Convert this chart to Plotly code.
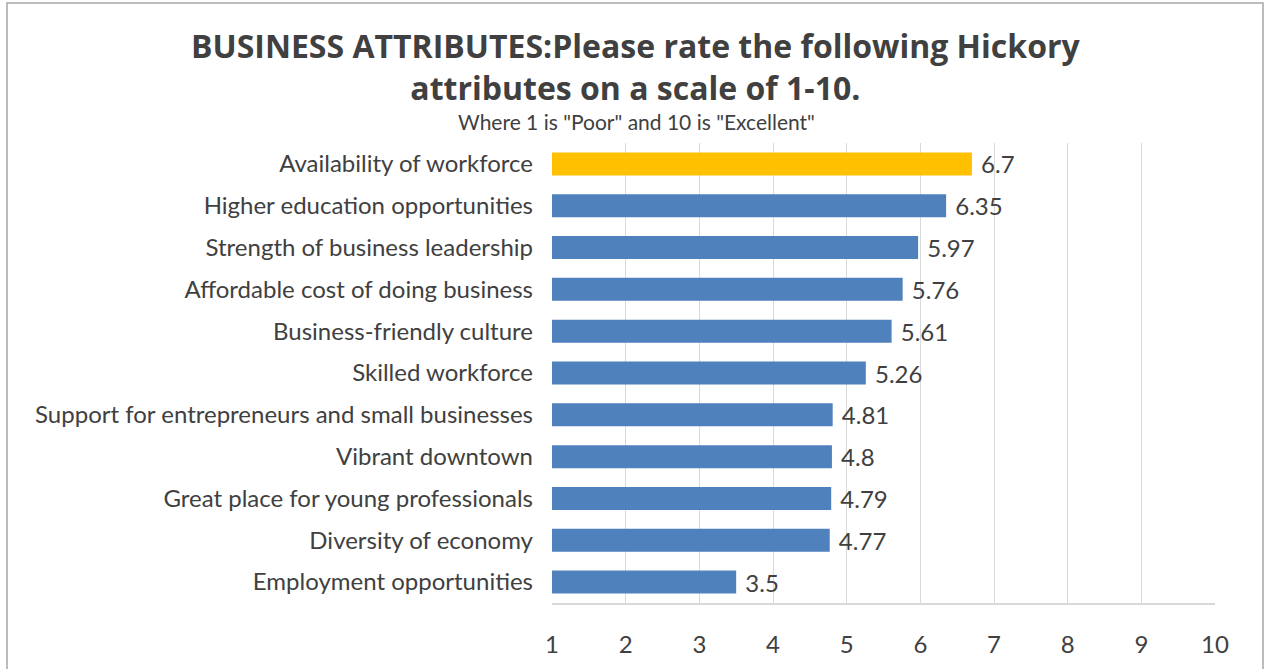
import plotly.graph_objects as go

# Survey results: average rating per attribute (1 = Poor, 10 = Excellent)
attributes = [
    "Availability of workforce",
    "Higher education opportunities",
    "Strength of business leadership",
    "Affordable cost of doing business",
    "Business-friendly culture",
    "Skilled workforce",
    "Support for entrepreneurs and small businesses",
    "Vibrant downtown",
    "Great place for young professionals",
    "Diversity of economy",
    "Employment opportunities",
]
ratings = [6.7, 6.35, 5.97, 5.76, 5.61, 5.26, 4.81, 4.8, 4.79, 4.77, 3.5]
tick_values = [1, 2, 3, 4, 5, 6, 7, 8, 9, 10]

BLUE = "#4F81BD"
GOLD = "#FFC000"
TEXT = "#404040"
GRID = "#D9D9D9"
FONT = "Lato, 'Open Sans', sans-serif"
TITLE_FONT = "'Open Sans', Lato, sans-serif"

colors = [GOLD if i == 0 else BLUE for i in range(len(ratings))]

W, H = 1270, 669
L, R, T, B = 552, 55, 143, 66

fig = go.Figure(
    go.Bar(
        x=ratings,
        y=attributes,
        orientation="h",
        marker=dict(color=colors, line=dict(width=0)),
        width=0.55,
        text=[f" {v:g}" for v in ratings],
        textposition="outside",
        constraintext="none",
        textfont=dict(family=FONT, size=24, color=TEXT),
        cliponaxis=False,
        hoverinfo="skip",
    )
)

fig.update_xaxes(
    range=[1, 10],
    tickvals=tick_values,
    ticktext=[str(t) for t in tick_values],
    showgrid=True,
    gridcolor=GRID,
    gridwidth=1,
    zeroline=False,
    showline=True,
    linecolor=GRID,
    linewidth=1.5,
    ticks="",
    ticklabelstandoff=19,
    tickfont=dict(family=FONT, size=24, color=TEXT),
    automargin=False,
    fixedrange=True,
)
fig.update_yaxes(
    autorange="reversed",
    showgrid=False,
    zeroline=False,
    showline=False,
    ticks="",
    ticklabelstandoff=18,
    tickfont=dict(family=FONT, size=24, color=TEXT),
    automargin=False,
    fixedrange=True,
)

pw = W - L - R
ph = H - T - B


def px_x(px):
    return (px - L) / pw


def px_y(py):
    return (H - B - py) / ph


# outer chart frame
fig.add_shape(
    type="rect",
    xref="paper", yref="paper",
    x0=px_x(7), x1=px_x(1263), y0=px_y(700), y1=px_y(3),
    line=dict(color="#A6A6A6", width=1.5),
    fillcolor="rgba(0,0,0,0)",
    layer="below",
)

# two-line bold title
fig.add_annotation(
    text="<b>BUSINESS ATTRIBUTES:Please rate the following Hickory</b><br>"
         "<b>attributes on a scale of 1-10.</b>",
    xref="paper", yref="paper", x=px_x(636), y=px_y(66.5),
    showarrow=False, xanchor="center", yanchor="middle", align="center",
    font=dict(family=TITLE_FONT, size=32, color=TEXT),
)
fig.add_annotation(
    text='Where 1 is "Poor" and 10 is "Excellent"',
    xref="paper", yref="paper", x=px_x(636), y=px_y(122),
    showarrow=False, xanchor="center", yanchor="middle",
    font=dict(family=FONT, size=21, color=TEXT),
)

fig.update_layout(
    width=W,
    height=H,
    margin=dict(l=L, r=R, t=T, b=B, pad=0),
    paper_bgcolor="white",
    plot_bgcolor="white",
    showlegend=False,
    bargap=0.45,
)

fig.write_html("out.html", config={"displayModeBar": False})
